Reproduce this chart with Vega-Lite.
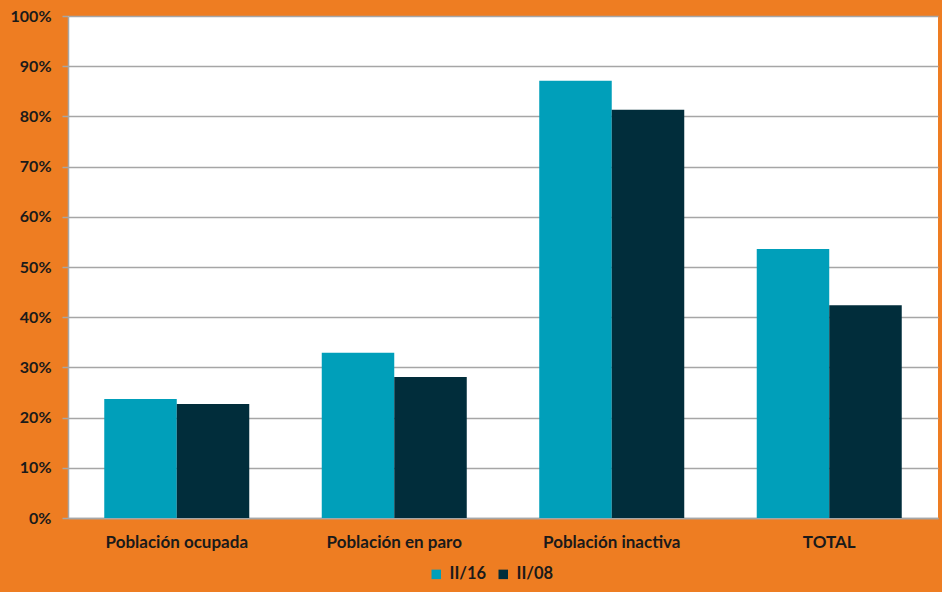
{
  "$schema": "https://vega.github.io/schema/vega-lite/v6.json",
  "width": 870,
  "height": 502,
  "autosize": {"type": "none"},
  "padding": {"left": 68, "top": 16, "right": 4, "bottom": 74},
  "background": "#EE7D22",
  "config": {
    "view": {"fill": "#FFFFFF", "stroke": null},
    "font": "Lato"
  },
  "data": {
    "values": [
      {"cat": "Población ocupada", "serie": "II/16", "v": 0.237},
      {"cat": "Población ocupada", "serie": "II/08", "v": 0.227},
      {"cat": "Población en paro", "serie": "II/16", "v": 0.329},
      {"cat": "Población en paro", "serie": "II/08", "v": 0.281},
      {"cat": "Población inactiva", "serie": "II/16", "v": 0.871},
      {"cat": "Población inactiva", "serie": "II/08", "v": 0.813},
      {"cat": "TOTAL", "serie": "II/16", "v": 0.536},
      {"cat": "TOTAL", "serie": "II/08", "v": 0.424}
    ]
  },
  "mark": {"type": "bar"},
  "encoding": {
    "x": {
      "field": "cat", "type": "nominal", "sort": null, "title": null,
      "scale": {"paddingInner": 0.3333, "paddingOuter": 0.1667},
      "axis": {
        "labelAngle": 0, "ticks": false, "domainColor": "#A6A6A6", "domainWidth": 1.5,
        "labelFontSize": 17, "labelFontWeight": "bold", "labelColor": "#1a1a1a",
        "labelPadding": 16, "labelFont": "Lato"
      }
    },
    "xOffset": {"field": "serie", "type": "nominal", "sort": ["II/16", "II/08"]},
    "y": {
      "field": "v", "type": "quantitative", "title": null,
      "scale": {"domain": [0, 1], "nice": false},
      "axis": {
        "format": ".0%", "values": [0, 0.1, 0.2, 0.3, 0.4, 0.5, 0.6, 0.7, 0.8, 0.9, 1.0],
        "labelOverlap": false,
        "gridColor": "#A6A6A6", "gridWidth": 1.5, "tickColor": "#A6A6A6", "tickSize": 6, "tickWidth": 1.5,
        "domainColor": "#A6A6A6", "domainWidth": 1.5,
        "labelFontSize": 16, "labelFontWeight": "bold", "labelColor": "#1a1a1a", "labelPadding": 11,
        "labelFont": "Lato"
      }
    },
    "color": {
      "field": "serie", "type": "nominal", "sort": ["II/16", "II/08"],
      "scale": {"domain": ["II/16", "II/08"], "range": ["#009FBA", "#012D3B"]},
      "legend": {
        "title": null, "orient": "none", "direction": "horizontal",
        "legendX": 360, "legendY": 550,
        "symbolType": "square", "symbolSize": 90, "symbolStrokeWidth": 0,
        "labelFontSize": 16.5, "labelFontWeight": "bold", "labelColor": "#1a1a1a",
        "labelFont": "Lato", "columnPadding": 8, "labelOffset": 5
      }
    }
  }
}
